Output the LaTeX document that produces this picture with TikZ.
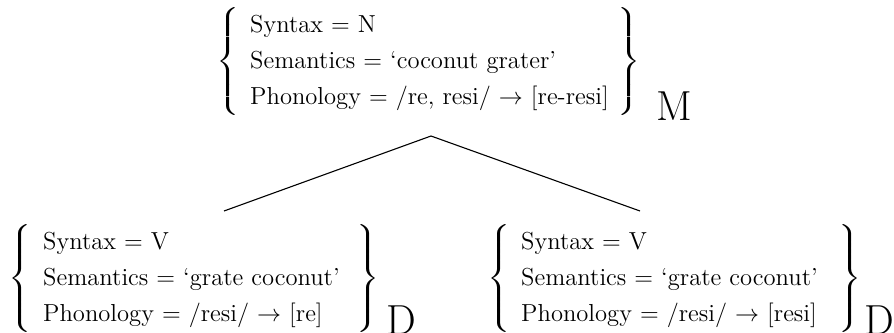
\documentclass[tikz,border=0pt]{standalone}
\usepackage{graphicx}
\newsavebox\featcontent
\newcommand\featbox[4]{\sbox\featcontent{\renewcommand\arraystretch{1.5}\begin{tabular}{@{}p{#4}@{}}#1\\#2\\#3\end{tabular}}%
\scalebox{1.3}[1]{$\left\{\vphantom{\usebox\featcontent}\right.$}\hspace{4pt}\usebox\featcontent\scalebox{1.3}[1]{$\left.\vphantom{\usebox\featcontent}\right\}$}}
\begin{document}
\begin{tikzpicture}[x=0.5pt,y=-0.5pt,
  feat/.style={inner sep=0pt, outer sep=0pt, anchor=west, font=\fontsize{12.3}{12}\selectfont},
  subl/.style={inner sep=0pt, outer sep=0pt, anchor=base west, font=\fontsize{21}{21}\selectfont},
  branch/.style={line width=0.55pt}]
\useasboundingbox (0,0) rectangle (894,332);
\node[feat] (top) at (216,61) {\featbox{Syntax = N}{Semantics = `coconut grater'}{Phonology = /re, resi/ $\rightarrow$ [re-resi]}{182pt}};
\node[subl] (mtop) at (656,120) {M};
\node[feat] (bl) at (9,278) {\featbox{Syntax = V}{Semantics = `grate coconut'}{Phonology = /resi/ $\rightarrow$ [re]}{155pt}};
\node[subl] (dl) at (386,334) {D};
\node[feat] (br) at (487,278) {\featbox{Syntax = V}{Semantics = `grate coconut'}{Phonology = /resi/ $\rightarrow$ [resi]}{157pt}};
\node[subl] (dr) at (864,334) {D};
\coordinate (apex) at (431,136);
\coordinate (lend) at (224,211);
\coordinate (rend) at (640,211);
\draw[branch] (lend) -- (apex) -- (rend);
\end{tikzpicture}
\end{document}
